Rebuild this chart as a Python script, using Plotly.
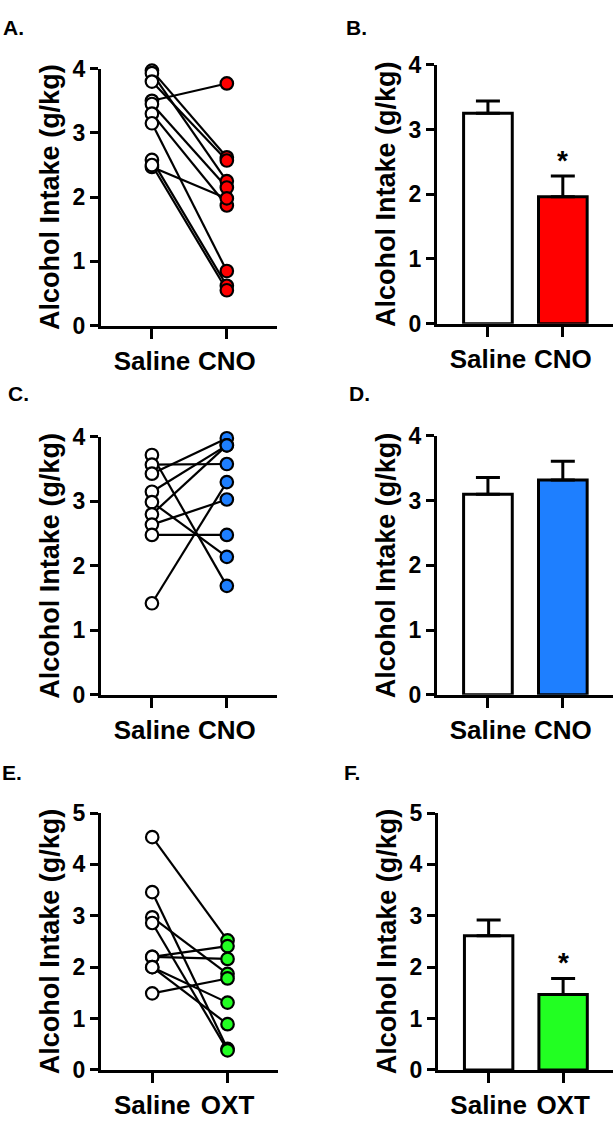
import plotly.graph_objects as go

# ---------------- data ----------------
groups_ab = ["Saline", "CNO"]
groups_cd = ["Saline", "CNO"]
groups_ef = ["Saline", "OXT"]

# Panel A: paired individual values
a_saline = [3.97, 3.93, 3.80, 3.50, 3.45, 3.30, 3.15, 2.58, 2.47, 2.50]
a_cno    = [2.62, 2.25, 2.57, 3.77, 2.15, 1.87, 0.85, 0.62, 1.98, 0.55]
# Panel B: means and SEM
b_mean = [3.25, 1.96]
b_sem  = [0.19, 0.32]

# Panel C
c_saline = [3.72, 3.57, 3.43, 3.15, 2.99, 2.80, 2.64, 2.48, 1.42]
c_cno    = [1.69, 3.58, 3.98, 3.87, 2.14, 3.87, 3.03, 2.48, 3.30]
# Panel D
d_mean = [3.10, 3.32]
d_sem  = [0.26, 0.29]

# Panel E
e_saline = [4.53, 3.46, 2.97, 2.86, 2.20, 2.20, 2.00, 2.00, 1.49]
e_oxt    = [2.52, 0.41, 1.87, 0.38, 2.41, 2.16, 1.31, 0.89, 1.78]
# Panel F
f_mean = [2.61, 1.47]
f_sem  = [0.31, 0.31]

red = "#FF0000"
blue = "#1E7FFF"
green = "#22FF22"

FONT = "Liberation Sans"
W, H = 615, 1122

fig = go.Figure()

def px_x(a, b):
    return [a / W, b / W]

def px_y(top, bottom):
    return [1 - bottom / H, 1 - top / H]

panels = [
    ("",  px_x(101, 277), px_y(57, 320), 4),
    ("2", px_x(437, 613), px_y(53, 318), 4),
    ("3", px_x(101, 277), px_y(434, 698), 4),
    ("4", px_x(437, 613), px_y(433, 698), 4),
    ("5", px_x(101, 278), px_y(819, 1082), 5),
    ("6", px_x(438, 613), px_y(819, 1082), 5),
]
ticklabels = [groups_ab, groups_ab, groups_cd, groups_cd, groups_ef, groups_ef]

for (suf, xd, yd, ymax), labels in zip(panels, ticklabels):
    xa = "xaxis" + suf
    ya = "yaxis" + suf
    fig.layout[xa] = dict(
        domain=xd, anchor="y" + suf, range=[-0.68, 1.67],
        tickmode="array", tickvals=[0, 1], ticktext=labels,
        showline=True, linewidth=3, linecolor="black",
        ticks="outside", ticklen=10, tickwidth=3, tickcolor="black",
        showgrid=False, zeroline=False,
        tickfont=dict(family=FONT, size=26, color="black", weight="bold"),
        fixedrange=True,
    )
    fig.layout[ya] = dict(
        domain=yd, anchor="x" + suf, range=[0, ymax],
        tickmode="linear", tick0=0, dtick=1,
        showline=True, linewidth=3, linecolor="black",
        ticks="outside", ticklen=8, tickwidth=3, tickcolor="black",
        showgrid=False, zeroline=False,
        tickfont=dict(family=FONT, size=23, color="black", weight="bold"),
        title=dict(text="Alcohol Intake (g/kg)", standoff=6,
                   font=dict(family=FONT, size=27, color="black", weight="bold")),
        fixedrange=True,
    )

def paired(before, after, color, suf):
    xr = "x" + suf
    yr = "y" + suf
    for b, a in zip(before, after):
        fig.add_trace(go.Scatter(
            x=[0, 1], y=[b, a], mode="lines",
            line=dict(color="black", width=2.2),
            xaxis=xr, yaxis=yr, showlegend=False, hoverinfo="skip",
            cliponaxis=False,
        ))
    fig.add_trace(go.Scatter(
        x=[0] * len(before), y=before, mode="markers",
        marker=dict(size=12.5, color="white", line=dict(color="black", width=2.2)),
        xaxis=xr, yaxis=yr, showlegend=False, cliponaxis=False,
    ))
    fig.add_trace(go.Scatter(
        x=[1] * len(after), y=after, mode="markers",
        marker=dict(size=12.5, color=color, line=dict(color="black", width=2.2)),
        xaxis=xr, yaxis=yr, showlegend=False, cliponaxis=False,
    ))

def bars(means, sems, color, suf):
    fig.add_trace(go.Bar(
        x=[0, 1], y=means, width=0.65,
        marker=dict(color=["white", color], line=dict(color="black", width=3)),
        error_y=dict(type="data", array=sems, arrayminus=[0, 0], symmetric=False,
                     thickness=3, width=12, color="black"),
        xaxis="x" + suf, yaxis="y" + suf, showlegend=False,
    ))

paired(a_saline, a_cno, red, "")
bars(b_mean, b_sem, red, "2")
paired(c_saline, c_cno, blue, "3")
bars(d_mean, d_sem, blue, "4")
paired(e_saline, e_oxt, green, "5")
bars(f_mean, f_sem, green, "6")

# significance stars
for suf, m, s in [("2", b_mean, b_sem), ("6", f_mean, f_sem)]:
    fig.add_annotation(x=1, y=m[1] + s[1], xref="x" + suf, yref="y" + suf,
                       text="*", showarrow=False, yanchor="bottom", yshift=-2,
                       font=dict(family=FONT, size=28, color="black", weight="bold"))

# panel letters
letters = [("A.", 1, 15), ("B.", 344, 15), ("C.", 6, 390),
           ("D.", 347, 390), ("E.", 0, 778), ("F.", 342, 778)]
for t, lx, ly in letters:
    fig.add_annotation(x=lx / W, y=1 - ly / H, xref="paper", yref="paper",
                       text=t, showarrow=False, xanchor="left", yanchor="middle",
                       font=dict(family=FONT, size=21, color="black", weight="bold"))

fig.update_layout(
    width=W, height=H,
    margin=dict(l=0, r=0, t=0, b=0),
    paper_bgcolor="white", plot_bgcolor="white",
    barmode="overlay",
    font=dict(family=FONT, color="black"),
)

fig.write_html("out.html",
               config={"displayModeBar": False},
               post_script="document.body.style.margin='0';document.body.style.overflow='hidden';")
